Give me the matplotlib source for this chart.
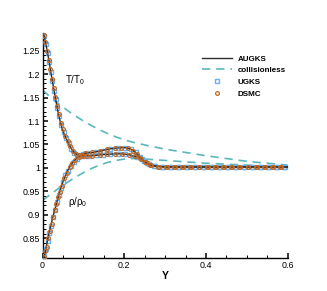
import matplotlib
matplotlib.use("Agg")
import matplotlib.pyplot as plt
from matplotlib.ticker import MultipleLocator, FuncFormatter

plt.rcParams['font.family'] = ['Liberation Sans', 'DejaVu Sans']
plt.rcParams['mathtext.fontset'] = 'custom'
plt.rcParams['mathtext.rm'] = 'Liberation Sans'
plt.rcParams['mathtext.it'] = 'Liberation Sans'

# --- AUGKS (linea continua) ---
y_aug = [0.000, 0.004, 0.008, 0.012, 0.016, 0.020, 0.024, 0.028, 0.032, 0.036,
         0.040, 0.044, 0.048, 0.052, 0.057, 0.062, 0.067, 0.072, 0.078, 0.083,
         0.088, 0.095, 0.105, 0.123, 0.141, 0.160, 0.176, 0.193, 0.205, 0.213,
         0.222, 0.230, 0.238, 0.245, 0.250, 0.258, 0.266, 0.275, 0.285, 0.300,
         0.350, 0.400, 0.450, 0.500, 0.550, 0.600]
T_aug = [1.290, 1.281, 1.264, 1.246, 1.226, 1.205, 1.185, 1.165, 1.146, 1.127,
         1.110, 1.096, 1.084, 1.074, 1.064, 1.055, 1.046, 1.039, 1.032, 1.029,
         1.027, 1.026, 1.026, 1.026, 1.028, 1.029, 1.030, 1.030, 1.029, 1.028,
         1.025, 1.024, 1.022, 1.017, 1.013, 1.009, 1.006, 1.004, 1.003, 1.002,
         1.002, 1.002, 1.002, 1.002, 1.002, 1.002]

y_aug_rho = [0.000, 0.004, 0.008, 0.012, 0.016, 0.020, 0.025, 0.030, 0.035, 0.040,
             0.045, 0.050, 0.055, 0.060, 0.066, 0.072, 0.078, 0.085, 0.092, 0.100,
             0.110, 0.123, 0.141, 0.160, 0.176, 0.193, 0.205, 0.213, 0.220, 0.226,
             0.232, 0.238, 0.245, 0.250, 0.258, 0.266, 0.275, 0.285, 0.300, 0.350,
             0.400, 0.450, 0.500, 0.550, 0.600]
rho_aug = [0.805, 0.812, 0.828, 0.845, 0.862, 0.877, 0.895, 0.911, 0.928, 0.943,
           0.958, 0.971, 0.982, 0.992, 1.002, 1.010, 1.016, 1.022, 1.026, 1.030,
           1.032, 1.033, 1.036, 1.040, 1.042, 1.043, 1.043, 1.041, 1.038, 1.034,
           1.029, 1.023, 1.017, 1.013, 1.009, 1.006, 1.004, 1.003, 1.002, 1.002,
           1.002, 1.002, 1.002, 1.002, 1.002]

# --- collisionless (tratteggio) ---
y_coll = [0.00, 0.02, 0.04, 0.06, 0.08, 0.10, 0.12, 0.14, 0.16, 0.18, 0.20, 0.22,
          0.25, 0.30, 0.35, 0.40, 0.45, 0.50, 0.55, 0.60]
T_coll = [1.166, 1.150, 1.136, 1.123, 1.111, 1.100, 1.090, 1.081, 1.073, 1.066,
          1.060, 1.055, 1.049, 1.040, 1.033, 1.026, 1.020, 1.014, 1.010, 1.006]
rho_coll = [0.931, 0.944, 0.957, 0.969, 0.980, 0.990, 0.999, 1.006, 1.012, 1.016,
            1.019, 1.020, 1.019, 1.016, 1.013, 1.010, 1.008, 1.006, 1.004, 1.003]

# --- DSMC (cerchi) ---
y_dsmc_T = [0.003, 0.007, 0.011, 0.015, 0.019, 0.023, 0.027, 0.031, 0.035, 0.039,
            0.044, 0.049, 0.055, 0.061, 0.067, 0.074, 0.081, 0.089, 0.098, 0.108,
            0.122, 0.140, 0.158, 0.176, 0.194, 0.212, 0.226, 0.238, 0.250, 0.264,
            0.282, 0.302, 0.322, 0.342, 0.362, 0.382, 0.402, 0.422, 0.442, 0.462,
            0.482, 0.502, 0.522, 0.542, 0.562, 0.582]
T_dsmc = [1.283, 1.268, 1.250, 1.231, 1.210, 1.190, 1.170, 1.151, 1.132, 1.114,
          1.096, 1.082, 1.068, 1.057, 1.046, 1.036, 1.030, 1.027, 1.026, 1.026,
          1.026, 1.028, 1.029, 1.030, 1.030, 1.028, 1.025, 1.022, 1.013, 1.007,
          1.003, 1.002, 1.001, 1.002, 1.003, 1.002, 1.002, 1.001, 1.002, 1.002,
          1.003, 1.002, 1.001, 1.002, 1.002, 1.002]

y_dsmc_rho = [0.004, 0.007, 0.010, 0.014, 0.018, 0.022, 0.026, 0.030, 0.034, 0.038,
              0.042, 0.047, 0.053, 0.059, 0.066, 0.073, 0.080, 0.088, 0.097, 0.104,
              0.122, 0.140, 0.158, 0.176, 0.193, 0.210, 0.222, 0.232, 0.242, 0.252,
              0.266, 0.284, 0.304, 0.324, 0.344, 0.364, 0.384, 0.404, 0.424, 0.444,
              0.464, 0.484, 0.504, 0.524, 0.544, 0.564, 0.584]
rho_dsmc = [0.811, 0.822, 0.832, 0.850, 0.866, 0.880, 0.895, 0.910, 0.924, 0.937,
            0.949, 0.962, 0.978, 0.990, 1.002, 1.011, 1.017, 1.023, 1.028, 1.031,
            1.033, 1.036, 1.040, 1.042, 1.043, 1.042, 1.037, 1.029, 1.020, 1.012,
            1.006, 1.003, 1.002, 1.002, 1.001, 1.002, 1.002, 1.003, 1.002, 1.002,
            1.001, 1.002, 1.002, 1.002, 1.003, 1.002, 1.002]

# --- UGKS (quadrati) ---
y_ugks_T = [0.004, 0.008, 0.012, 0.016, 0.020, 0.024, 0.028, 0.032, 0.036, 0.040,
            0.046, 0.052, 0.058, 0.064, 0.070, 0.078, 0.086, 0.094, 0.104, 0.114,
            0.130, 0.148, 0.166, 0.184, 0.202, 0.218, 0.232, 0.244, 0.256, 0.272,
            0.292, 0.312, 0.332, 0.352, 0.372, 0.392, 0.412, 0.432, 0.452, 0.472,
            0.492, 0.512, 0.532, 0.552, 0.572, 0.592]
T_ugks = [1.281, 1.264, 1.246, 1.226, 1.205, 1.185, 1.165, 1.146, 1.127, 1.110,
          1.092, 1.076, 1.063, 1.053, 1.041, 1.032, 1.028, 1.026, 1.026, 1.026,
          1.027, 1.028, 1.030, 1.030, 1.030, 1.027, 1.023, 1.018, 1.011, 1.005,
          1.002, 1.002, 1.002, 1.002, 1.002, 1.002, 1.002, 1.002, 1.002, 1.002,
          1.002, 1.002, 1.002, 1.002, 1.002, 1.002]

y_ugks_rho = [0.004, 0.008, 0.012, 0.016, 0.020, 0.025, 0.030, 0.035, 0.040, 0.045,
              0.050, 0.056, 0.062, 0.069, 0.076, 0.084, 0.092, 0.100, 0.112, 0.130,
              0.148, 0.166, 0.184, 0.202, 0.216, 0.228, 0.238, 0.248, 0.260, 0.276,
              0.294, 0.314, 0.334, 0.354, 0.374, 0.394, 0.414, 0.434, 0.454, 0.474,
              0.494, 0.514, 0.534, 0.554, 0.574, 0.594]
rho_ugks = [0.812, 0.828, 0.845, 0.862, 0.877, 0.895, 0.911, 0.928, 0.943, 0.958,
            0.971, 0.984, 0.994, 1.005, 1.013, 1.020, 1.026, 1.030, 1.032, 1.034,
            1.037, 1.041, 1.042, 1.043, 1.040, 1.033, 1.023, 1.015, 1.008, 1.004,
            1.002, 1.002, 1.002, 1.002, 1.002, 1.002, 1.002, 1.002, 1.002, 1.002,
            1.002, 1.002, 1.002, 1.002, 1.002, 1.002]

# --- GRAFICO ---
fig = plt.figure(figsize=(3.27, 2.91), dpi=100)
ax = fig.add_axes([0.1303, 0.1134, 0.7495, 0.7722])

col_line = '#2e2e2e'
col_dash = '#5cb8b8'
col_sq = '#6ab2f2'
col_ci = '#c4661f'

ax.plot(y_aug, T_aug, color=col_line, lw=1.0, zorder=4, label='AUGKS')
ax.plot(y_aug_rho, rho_aug, color=col_line, lw=1.0, zorder=4)
ax.plot(y_coll, T_coll, color=col_dash, lw=1.2, dashes=(5, 3.5), label='collisionless')
ax.plot(y_coll, rho_coll, color=col_dash, lw=1.2, dashes=(5, 3.5))
ax.plot(y_ugks_T, T_ugks, ls='none', marker='s', ms=2.9, mfc='none', mec=col_sq,
        mew=1.0, zorder=3, label='UGKS')
ax.plot(y_ugks_rho, rho_ugks, ls='none', marker='s', ms=2.9, mfc='none', mec=col_sq,
        mew=1.0, zorder=3)
ax.plot(y_dsmc_T, T_dsmc, ls='none', marker='o', ms=2.7, mfc='none', mec=col_ci,
        mew=0.9, zorder=5, label='DSMC')
ax.plot(y_dsmc_rho, rho_dsmc, ls='none', marker='o', ms=2.7, mfc='none', mec=col_ci,
        mew=0.9, zorder=5)

ax.text(0.055, 1.187, r'T/T$_0$', fontsize=7, ha='left', va='center')
ax.text(0.063, 0.928, r'ρ/ρ$_0$', fontsize=7, ha='left', va='center')

ax.set_xlim(0, 0.6)
ax.set_ylim(0.808, 1.287)
ax.spines['top'].set_visible(False)
ax.spines['right'].set_visible(False)
for s in ('left', 'bottom'):
    ax.spines[s].set_linewidth(1.0)

ax.xaxis.set_major_locator(MultipleLocator(0.2))
ax.xaxis.set_minor_locator(MultipleLocator(0.05))
ax.yaxis.set_major_locator(MultipleLocator(0.05))
ax.yaxis.set_minor_locator(MultipleLocator(0.01))
fmt = FuncFormatter(lambda v, p: '%g' % round(v, 3))
ax.xaxis.set_major_formatter(fmt)
ax.yaxis.set_major_formatter(fmt)
ax.tick_params(which='major', direction='in', length=3.8, width=1.1, labelsize=6.4, pad=2)
ax.tick_params(which='minor', direction='in', length=2.0, width=0.7)

ax.set_xlabel('Y', fontsize=7.5, fontweight='bold', labelpad=1)

leg = ax.legend(loc='upper left', bbox_to_anchor=(0.605, 0.825),
                bbox_transform=fig.transFigure, frameon=False,
                prop={'weight': 'bold', 'size': 5.8}, handlelength=3.7,
                handletextpad=0.7, labelspacing=0.5, borderpad=0, numpoints=1)

fig.savefig('out.png', dpi=100)
